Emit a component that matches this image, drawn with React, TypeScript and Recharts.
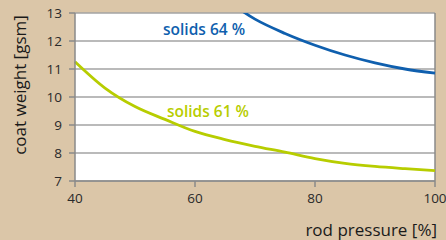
import React from "react";
import {
  LineChart,
  Line,
  XAxis,
  YAxis,
  CartesianGrid,
  ReferenceLine,
  ReferenceDot
} from "recharts";

const pressure = [40, 45, 50, 55, 60, 65, 70, 75, 80, 85, 90, 95, 100];
const solids61 = [11.26, 10.32, 9.66, 9.2, 8.77, 8.48, 8.24, 8.03, 7.8, 7.63, 7.52, 7.44, 7.37];
const solids64 = [null, null, null, null, 14.3, 13.5, 12.78, 12.27, 11.85, 11.5, 11.22, 11.0, 10.85];
const xTicks = [40, 60, 80, 100];
const yTicks = [7, 8, 9, 10, 11, 12, 13];

const BLUE = "#0f5fae";
const GREEN = "#b7cd00";
const FONT = "'Open Sans', sans-serif";

const data = pressure.map((p, i) => ({ p, s61: solids61[i], s64: solids64[i] }));

const tick = { fill: "#2a2a2a", fontSize: 13.5, fontFamily: FONT };

const seriesLabel = (text: string, color: string) => (props: any) => {
  const vb = props.viewBox;
  return (
    <text
      x={vb.x}
      y={vb.y}
      dominantBaseline="central"
      fill={color}
      fontSize={15.5}
      fontWeight={600}
      fontFamily={FONT}
    >
      {text}
    </text>
  );
};

export default function App() {
  return (
    <div
      style={{
        position: "absolute",
        left: 0,
        top: 0,
        width: 446,
        height: 240,
        background: "#dbc6a8"
      }}
    >
      <LineChart width={446} height={240} data={data} margin={{ top: 13, right: 11, left: 0, bottom: 0 }}>
        <CartesianGrid vertical={false} stroke="#a3a3a3" strokeWidth={1.3} fill="#ffffff" />
        <XAxis
          dataKey="p"
          type="number"
          domain={[40, 100]}
          ticks={xTicks}
          height={59}
          tickSize={6}
          tickMargin={6}
          stroke="#8a8a8a"
          strokeWidth={1.5}
          tick={tick}
          label={(props: any) => {
            const vb = props.viewBox;
            return (
              <text
                x={vb.x + vb.width + 2}
                y={vb.y + 48}
                textAnchor="end"
                dominantBaseline="central"
                fill="#1a1a1a"
                fontSize={17}
                fontFamily={FONT}
              >
                rod pressure [%]
              </text>
            );
          }}
        />
        <YAxis
          type="number"
          domain={[7, 13]}
          ticks={yTicks}
          allowDataOverflow
          width={75}
          tickSize={6}
          tickMargin={7}
          stroke="#8a8a8a"
          strokeWidth={1.5}
          tick={tick}
          label={(props: any) => {
            const vb = props.viewBox;
            const x = vb.x + 19;
            const y = vb.y + vb.height / 2 - 12;
            return (
              <text
                x={x}
                y={y}
                transform={`rotate(-90 ${x} ${y})`}
                textAnchor="middle"
                dominantBaseline="central"
                fill="#1a1a1a"
                fontSize={17}
                fontFamily={FONT}
              >
                coat weight [gsm]
              </text>
            );
          }}
        />
        <ReferenceLine x={100} stroke="#8a8a8a" strokeWidth={1.5} />
        <Line
          type="monotone"
          dataKey="s61"
          stroke={GREEN}
          strokeWidth={2.8}
          dot={false}
          isAnimationActive={false}
        />
        <Line
          type="monotone"
          dataKey="s64"
          stroke={BLUE}
          strokeWidth={2.8}
          dot={false}
          isAnimationActive={false}
        />
        <ReferenceDot x={54.67} y={12.43} r={0} stroke="none" fill="none" label={seriesLabel("solids 64 %", BLUE)} />
        <ReferenceDot x={55.33} y={9.5} r={0} stroke="none" fill="none" label={seriesLabel("solids 61 %", GREEN)} />
      </LineChart>
    </div>
  );
}
